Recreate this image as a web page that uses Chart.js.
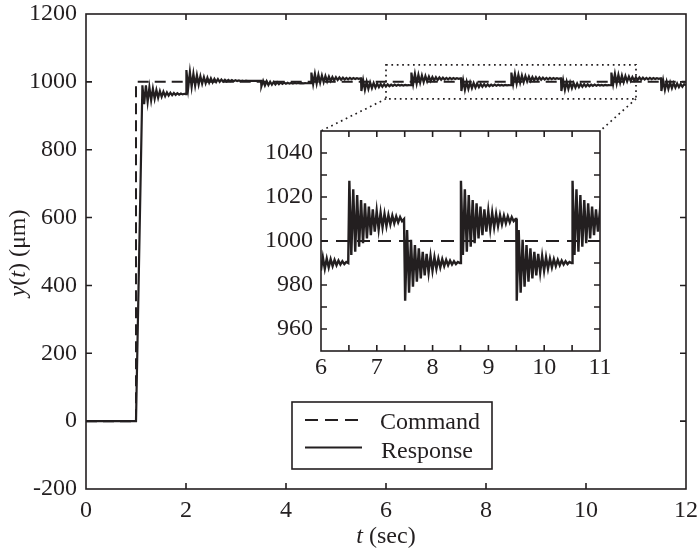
<!DOCTYPE html>
<html><head><meta charset="utf-8">
<script src="https://cdn.jsdelivr.net/npm/chart.js@4.4.1/dist/chart.umd.min.js"></script>
<style>
html,body{margin:0;padding:0;background:#fff;}
#wrap{position:relative;width:700px;height:550px;overflow:hidden;}
#main{position:absolute;left:0;top:0;}
#inset{position:absolute;}
</style></head><body>
<div id="wrap">
<canvas id="main" width="700" height="550"></canvas>
<canvas id="inset" width="365" height="270"></canvas>
</div>
<script>
// ---------------- data ----------------
const cmdT = [0, 1, 1, 12];
const cmdY = [0, 0, 1000, 1000];

// response before the ringing starts (rest, then the fast rise at t = 1 s)
const leadT = [0, 1.0];
const leadY = [0, 0];

// times at which the response changes behaviour (s)
const segStart = [1.12, 2.0, 3.5, 4.5, 5.5, 6.5, 7.5, 8.5, 9.5, 10.5, 11.5];
const segKind  = ['rise', 'over', 'small', 'up', 'down', 'up', 'down', 'up', 'down', 'up', 'down'];

// successive extremes of the ringing in each kind of segment (µm), last value = settled level
const riseExt  = [990, 934, 990, 941, 984, 946, 980, 950, 976, 953, 973, 956, 971, 958, 969, 959.5, 968, 960.5, 967, 961.5, 966.3, 962.3, 965.6, 963, 964.8, 964];
const overExt  = [1035, 981, 1029, 985, 1024, 989, 1020, 992, 1016.5, 994.5, 1014, 996, 1012, 997.5, 1010.5, 998.5, 1009, 999.5, 1008, 1000, 1007, 1000.8, 1006.2, 1001.3, 1005.6, 1001.7, 1005, 1002, 1004.6, 1002.2, 1004.2, 1002.4, 1003.9, 1002.6, 1003.6, 1002.8, 1003.3, 1003];
const smallExt = [987, 1003, 989, 1001.5, 990.5, 1000.5, 991.5, 999.5, 992.5, 998.8, 993.2, 998.2, 993.8, 997.7, 994.3, 997.3, 994.7, 997, 995, 996.8, 995.3, 996.6, 995.5, 996.4, 995.7, 996.2, 995.9, 996];
const upExt    = [1027.4, 993.6, 1023.5, 995.1, 1020.9, 997.4, 1018.6, 999, 1017.1, 1001.2, 1015.6, 1002.7, 1014.4, 1004.2, 1013.6, 1005.3, 1012.9, 1006.2, 1012.3, 1006.8, 1011.8, 1007.6, 1011.5, 1008, 1011.2, 1008.5, 1010.9, 1009, 1010];
const downExt  = [972.9, 1005, 976.5, 1000.5, 979.2, 998.2, 981.5, 996.7, 983, 995.1, 984.4, 994.1, 985.6, 993.2, 986.5, 992.6, 987.4, 992, 988, 991.7, 988.6, 991.4, 989, 991.1, 989.3, 990.8, 989.5, 990.5, 990];
const HALF_PERIOD = 0.035;   // spacing of the ringing extremes (s)
const JUMP_TIME = 0.008;     // the steps are practically vertical

// tick labels
const mainXTicks = [0, 2, 4, 6, 8, 10, 12];
const mainYTicks = [-200, 0, 200, 400, 600, 800, 1000, 1200];
const insetXLabels = [6, 7, 8, 9, 10, 11];
const insetYLabels = [960, 980, 1000, 1020, 1040];
const zoomBox = {x0: 6, x1: 11, y0: 950, y1: 1050};

// ---------------- building ----------------
const shapes = {rise: riseExt, over: overExt, small: smallExt, up: upExt, down: downExt};
const commandPts = cmdT.map((t, i) => ({x: t, y: cmdY[i]}));
function buildResponse() {
  const pts = leadT.map((t, i) => ({x: t, y: leadY[i]}));
  segStart.forEach((t0, i) => {
    const t1 = i + 1 < segStart.length ? segStart[i + 1] : 12;
    const ext = shapes[segKind[i]];
    for (let k = 0; k < ext.length; k++) {
      const t = t0 + JUMP_TIME + k * HALF_PERIOD;
      if (t >= t1 - 0.004) break;
      pts.push({x: t, y: ext[k]});
    }
    pts.push({x: t1, y: ext[ext.length - 1]});
  });
  return pts;
}
const responsePts = buildResponse();

const INK = '#231f20';
const FAM = '"Liberation Serif", "Times New Roman", serif';
const FS = 24;
const INSET_LEFT = 250, INSET_TOP = 118;
const insetCanvas = document.getElementById('inset');
insetCanvas.style.left = INSET_LEFT + 'px';
insetCanvas.style.top = INSET_TOP + 'px';

const tickFrame = {
  id: 'tickFrame',
  beforeDraw(chart, args, o) {
    const {ctx, chartArea: a} = chart;
    ctx.save();
    ctx.fillStyle = '#fff';
    if (o.fillAll) ctx.fillRect(0, 0, chart.width, chart.height);
    else ctx.fillRect(a.left, a.top, a.right - a.left, a.bottom - a.top);
    ctx.restore();
  },
  afterDatasetsDraw(chart, args, o) {
    const {ctx, chartArea: a} = chart;
    const xs = chart.scales.x, ys = chart.scales.y;
    ctx.save();
    ctx.strokeStyle = INK; ctx.lineWidth = o.width; ctx.setLineDash([]);
    ctx.beginPath();
    xs.ticks.forEach(t => {
      const p = xs.getPixelForValue(t.value);
      if (p < a.left + 1 || p > a.right - 1) return;
      ctx.moveTo(p, a.bottom); ctx.lineTo(p, a.bottom - o.len);
      ctx.moveTo(p, a.top); ctx.lineTo(p, a.top + o.len);
    });
    ys.ticks.forEach(t => {
      const p = ys.getPixelForValue(t.value);
      if (p < a.top + 1 || p > a.bottom - 1) return;
      ctx.moveTo(a.left, p); ctx.lineTo(a.left + o.len, p);
      ctx.moveTo(a.right, p); ctx.lineTo(a.right - o.len, p);
    });
    ctx.stroke();
    ctx.strokeRect(a.left, a.top, a.right - a.left, a.bottom - a.top);
    ctx.restore();
  }
};

function tickFont() { return {family: FAM, size: FS}; }
function fitX(h) { return s => { s.height = h; s.paddingLeft = 0; s.paddingRight = 0; s.paddingTop = 0; s.paddingBottom = 0; }; }
function fitY(w) { return s => { s.width = w; s.paddingLeft = 0; s.paddingRight = 0; s.paddingTop = 0; s.paddingBottom = 0; }; }

// ---------------- inset ----------------
const insetChart = new Chart(insetCanvas, {
  type: 'line',
  data: {datasets: [
    {label: 'Command', data: commandPts, borderColor: INK, borderWidth: 2, borderDash: [13, 8], pointRadius: 0, tension: 0},
    {label: 'Response', data: responsePts, borderColor: INK, borderWidth: 2.4, pointRadius: 0, tension: 0}
  ]},
  options: {
    responsive: false, animation: false, devicePixelRatio: 1,
    layout: {padding: {left: 0, top: 13, right: 15, bottom: 0}},
    plugins: {legend: {display: false}, tooltip: {enabled: false}, tickFrame: {len: 6, width: 1.6}},
    scales: {
      x: {type: 'linear', min: zoomBox.x0, max: zoomBox.x1,
          ticks: {stepSize: 0.5, autoSkip: false, maxRotation: 0, padding: 2, color: INK, font: tickFont(),
                  callback: v => insetXLabels.includes(v) ? String(v) : ''},
          grid: {display: false, drawTicks: false}, border: {display: false},
          afterFit: fitX(37)},
      y: {type: 'linear', min: zoomBox.y0, max: zoomBox.y1,
          ticks: {stepSize: 10, autoSkip: false, padding: 8, color: INK, font: tickFont(),
                  callback: v => insetYLabels.includes(v) ? String(v) : ''},
          grid: {display: false, drawTicks: false}, border: {display: false},
          afterFit: fitY(71)}
    }
  },
  plugins: [tickFrame]
});

// ---------------- main ----------------
function mixed(ctx, parts, cx, cy) {
  let w = 0;
  parts.forEach(p => { ctx.font = (p[1] ? 'italic ' : '') + FS + 'px ' + FAM; w += ctx.measureText(p[0]).width; });
  let x = cx - w / 2;
  parts.forEach(p => { ctx.font = (p[1] ? 'italic ' : '') + FS + 'px ' + FAM; ctx.fillText(p[0], x, cy); x += ctx.measureText(p[0]).width; });
}

const mainDeco = {
  id: 'mainDeco',
  afterDraw(chart) {
    const {ctx} = chart;
    const xs = chart.scales.x, ys = chart.scales.y;
    ctx.save();
    // zoom box
    const bx0 = xs.getPixelForValue(zoomBox.x0), bx1 = xs.getPixelForValue(zoomBox.x1);
    const by0 = ys.getPixelForValue(zoomBox.y0), by1 = ys.getPixelForValue(zoomBox.y1);
    ctx.strokeStyle = INK; ctx.lineWidth = 1.7; ctx.setLineDash([1.7, 3.7]);
    ctx.strokeRect(bx0, by1, bx1 - bx0, by0 - by1);
    const ia = insetChart.chartArea;
    ctx.beginPath();
    ctx.moveTo(bx0, by0); ctx.lineTo(INSET_LEFT + ia.left, INSET_TOP + ia.top);
    ctx.moveTo(bx1, by0); ctx.lineTo(INSET_LEFT + ia.right, INSET_TOP + ia.top);
    ctx.stroke();
    ctx.setLineDash([]);
    // legend
    const L = {x0: 292, y0: 402, x1: 492, y1: 469};
    ctx.fillStyle = '#fff';
    ctx.fillRect(L.x0, L.y0, L.x1 - L.x0, L.y1 - L.y0);
    ctx.lineWidth = 1.6;
    ctx.strokeRect(L.x0, L.y0, L.x1 - L.x0, L.y1 - L.y0);
    const ds = chart.data.datasets;
    ctx.lineWidth = 2; ctx.setLineDash([13, 7]);
    ctx.beginPath(); ctx.moveTo(305, 420); ctx.lineTo(362, 420); ctx.stroke();
    ctx.setLineDash([]); ctx.lineWidth = 1.8;
    ctx.beginPath(); ctx.moveTo(305, 447.5); ctx.lineTo(362, 447.5); ctx.stroke();
    ctx.fillStyle = INK; ctx.textBaseline = 'alphabetic'; ctx.textAlign = 'left';
    ctx.font = FS + 'px ' + FAM;
    ctx.fillText(ds[0].label, 380, 429);
    ctx.fillText(ds[1].label, 381, 458);
    // axis titles
    ctx.textBaseline = 'middle';
    mixed(ctx, [['t', true], [' (sec)', false]], (chart.chartArea.left + chart.chartArea.right) / 2, 537);
    ctx.translate(19, 253);
    ctx.rotate(-Math.PI / 2);
    mixed(ctx, [['y', true], ['(', false], ['t', true], [') (μm)', false]], 0, 0);
    ctx.restore();
  }
};

const mainChart = new Chart(document.getElementById('main'), {
  type: 'line',
  data: {datasets: [
    {label: 'Command', data: commandPts, borderColor: INK, borderWidth: 2, borderDash: [11, 6], pointRadius: 0, tension: 0},
    {label: 'Response', data: responsePts, borderColor: INK, borderWidth: 2.2, pointRadius: 0, tension: 0}
  ]},
  options: {
    responsive: false, animation: false, devicePixelRatio: 1,
    layout: {padding: {left: 0, top: 14, right: 14, bottom: 0}},
    plugins: {legend: {display: false}, tooltip: {enabled: false}, tickFrame: {len: 6, width: 1.6, fillAll: true}},
    scales: {
      x: {type: 'linear', min: 0, max: 12,
          afterBuildTicks: s => { s.ticks = mainXTicks.map(v => ({value: v})); },
          ticks: {autoSkip: false, maxRotation: 0, padding: 7, color: INK, font: tickFont(), callback: v => String(v)},
          grid: {display: false, drawTicks: false}, border: {display: false},
          afterFit: fitX(61)},
      y: {type: 'linear', min: -200, max: 1200,
          afterBuildTicks: s => { s.ticks = mainYTicks.map(v => ({value: v})); },
          ticks: {autoSkip: false, padding: 9, color: INK, font: tickFont(), callback: v => String(v)},
          grid: {display: false, drawTicks: false}, border: {display: false},
          afterFit: fitY(86)}
    }
  },
  plugins: [tickFrame, mainDeco]
});
</script>
</body></html>
